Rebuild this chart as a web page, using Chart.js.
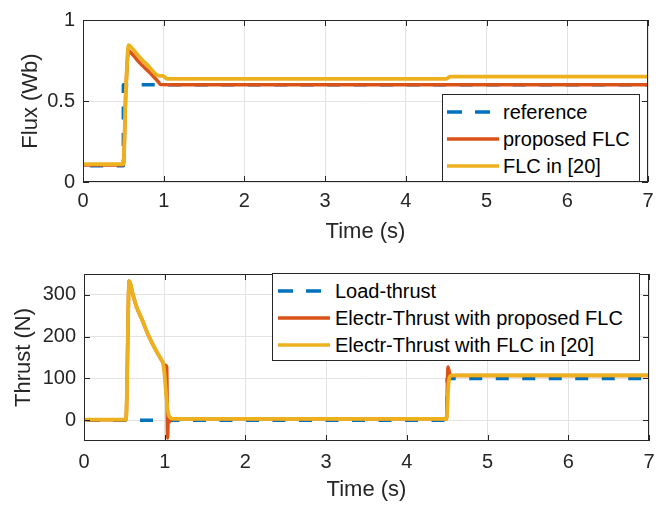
<!DOCTYPE html>
<html>
<head>
<meta charset="utf-8">
<script src="https://cdn.jsdelivr.net/npm/chart.js@4"></script>
<style>
  body { margin: 0; background: #fff; }
  #wrap { position: relative; width: 665px; height: 508px; font-family: "Liberation Sans", Arial, sans-serif; }
  .pane { position: absolute; left: 0; width: 665px; height: 254px; }
  .legend { position: absolute; background: #fff; border: 1px solid #262626; box-sizing: border-box; }
  .row { position: absolute; left: 0; height: 26px; font-size: 20px; color: #000; white-space: nowrap; }
  .row svg { position: absolute; top: 0; }
  .row span { position: absolute; top: 1px; line-height: 24px; }
</style>
</head>
<body>
<div id="wrap">
  <div class="pane" style="top:0"><canvas id="fluxChart" width="665" height="254"></canvas></div>
  <div class="pane" style="top:254px"><canvas id="thrustChart" width="665" height="254"></canvas></div>

  <div class="legend" style="left:442px; top:94px; width:198px; height:88px;">
    <div class="row" style="top:4px;"><svg width="60" height="26"><line x1="4" y1="13" x2="56" y2="13" stroke="#0072BD" stroke-width="3.5" stroke-dasharray="15,13"/></svg><span style="left:60px">reference</span></div>
    <div class="row" style="top:31px;"><svg width="60" height="26"><line x1="4" y1="13" x2="56" y2="13" stroke="#D95319" stroke-width="3.5"/></svg><span style="left:60px">proposed FLC</span></div>
    <div class="row" style="top:58px;"><svg width="60" height="26"><line x1="4" y1="13" x2="56" y2="13" stroke="#EDB120" stroke-width="3.5"/></svg><span style="left:60px">FLC in [20]</span></div>
  </div>

  <div class="legend" style="left:272px; top:273px; width:368px; height:88px;">
    <div class="row" style="top:4px;"><svg width="62" height="26"><line x1="5" y1="13" x2="57" y2="13" stroke="#0072BD" stroke-width="3.5" stroke-dasharray="15,13"/></svg><span style="left:62px">Load-thrust</span></div>
    <div class="row" style="top:31px;"><svg width="62" height="26"><line x1="5" y1="13" x2="57" y2="13" stroke="#D95319" stroke-width="3.5"/></svg><span style="left:62px">Electr-Thrust with proposed FLC</span></div>
    <div class="row" style="top:58px;"><svg width="62" height="26"><line x1="5" y1="13" x2="57" y2="13" stroke="#EDB120" stroke-width="3.5"/></svg><span style="left:62px">Electr-Thrust with FLC in [20]</span></div>
  </div>
</div>

<script>
// tick labels
const timeTicks = [0, 1, 2, 3, 4, 5, 6, 7];
const fluxTicks = [0, 0.5, 1];
const thrustTicks = [0, 100, 200, 300];

// flux (Wb) - top plot
const fluxRefTime = [0, 0.5, 0.5, 7];
const fluxRef = [0.1, 0.1, 0.6, 0.6];
const fluxPropTime = [0, 0.5, 0.53, 0.565, 0.6, 0.64, 0.7, 0.76, 0.81, 0.87, 0.93, 0.96, 1.2, 7];
const fluxProp = [0.105, 0.105, 0.55, 0.81, 0.795, 0.772, 0.737, 0.707, 0.684, 0.652, 0.62, 0.602, 0.601, 0.601];
const fluxOldTime = [0, 0.5, 0.53, 0.565, 0.6, 0.685, 0.75, 0.81, 0.87, 0.91, 0.95, 0.99, 1.04, 4.5, 4.55, 7];
const fluxOld = [0.11, 0.11, 0.55, 0.845, 0.83, 0.78, 0.745, 0.716, 0.682, 0.662, 0.655, 0.655, 0.637, 0.637, 0.65, 0.65];

// thrust (N) - bottom plot
const loadTime = [0, 4.5, 4.5, 7];
const loadThrust = [0, 0, 100, 100];
const thrPropTime = [0, 0.52, 0.56, 0.6, 0.65, 0.714, 0.8, 0.88, 0.963, 1.0, 1.025, 1.035, 1.045, 1.055, 1.07, 1.1, 4.49, 4.51, 4.53, 4.56, 4.6, 7];
const thrProp = [1, 1, 333, 305, 272, 243, 202, 171, 143, 132, 128, -43, 10, -5, 5, 3, 3, 127, 112, 106, 107, 107];
const thrOldTime = [0, 0.52, 0.56, 0.6, 0.65, 0.714, 0.8, 0.88, 0.963, 0.98, 1.0, 1.02, 1.045, 1.07, 1.1, 4.49, 4.52, 4.55, 7];
const thrOld = [1, 1, 333, 305, 272, 243, 202, 171, 143, 136, 105, 55, 15, 6, 3, 3, 95, 107, 107];

const BLUE = "#0072BD", RED = "#D95319", YELLOW = "#EDB120";
const AXIS = "#262626", GRID = "#e3e3e3";
const FONT = "'Liberation Sans', Arial, sans-serif";

function pts(t, v) {
  return t.map((x, i) => ({ x: x, y: v[i] }));
}

// box round the axes with inward tick marks, like matlab
const boxPlugin = {
  id: "box",
  afterDraw(chart) {
    const { ctx, chartArea: a, scales } = chart;
    ctx.save();
    ctx.strokeStyle = AXIS;
    ctx.lineWidth = 1;
    ctx.strokeRect(a.left + 0.5, a.top + 0.5, a.right - a.left - 1, a.bottom - a.top - 1);
    ctx.beginPath();
    scales.x.ticks.forEach(tk => {
      const px = Math.round(scales.x.getPixelForValue(tk.value)) + 0.5;
      ctx.moveTo(px, a.bottom); ctx.lineTo(px, a.bottom - 6);
      ctx.moveTo(px, a.top); ctx.lineTo(px, a.top + 6);
    });
    scales.y.ticks.forEach(tk => {
      const py = Math.round(scales.y.getPixelForValue(tk.value)) + 0.5;
      ctx.moveTo(a.left, py); ctx.lineTo(a.left + 6, py);
      ctx.moveTo(a.right, py); ctx.lineTo(a.right - 6, py);
    });
    ctx.stroke();
    ctx.restore();
  }
};

function makeChart(id, cfg) {
  const ctx = document.getElementById(id).getContext("2d");
  return new Chart(ctx, {
    type: "line",
    data: {
      datasets: [
        { label: cfg.labels[0], data: cfg.ref, borderColor: BLUE, borderWidth: 3.5, borderDash: [13, 13.5], borderDashOffset: cfg.dashOffset, order: 3 },
        { label: cfg.labels[1], data: cfg.prop, borderColor: RED, borderWidth: 3.5, cubicInterpolationMode: "monotone", order: 2 },
        { label: cfg.labels[2], data: cfg.old, borderColor: YELLOW, borderWidth: 3.8, cubicInterpolationMode: "monotone", order: 1 }
      ]
    },
    options: {
      responsive: false,
      animation: false,
      elements: { point: { radius: 0 }, line: { borderCapStyle: "butt", borderJoinStyle: "round" } },
      layout: { padding: { left: 0, right: cfg.padRight, top: cfg.padTop, bottom: 0 } },
      plugins: { legend: { display: false }, tooltip: { enabled: false } },
      scales: {
        x: {
          type: "linear", min: 0, max: 7,
          afterBuildTicks: s => { s.ticks = timeTicks.map(v => ({ value: v })); },
          afterFit: s => { s.height = cfg.xHeight; },
          ticks: { color: AXIS, font: { family: FONT, size: 20 }, padding: cfg.xTickPad, maxRotation: 0, callback: v => String(v) },
          grid: { color: GRID, drawTicks: false },
          border: { display: false },
          title: { display: true, text: "Time (s)", color: AXIS, font: { family: FONT, size: 22 }, padding: { top: 0, bottom: cfg.xTitlePad } }
        },
        y: {
          min: cfg.yMin, max: cfg.yMax,
          afterBuildTicks: s => { s.ticks = cfg.yTicks.map(v => ({ value: v })); },
          afterFit: s => { s.width = cfg.yWidth; },
          ticks: { color: AXIS, font: { family: FONT, size: 20 }, padding: 8, callback: v => String(v) },
          grid: { color: GRID, drawTicks: false },
          border: { display: false },
          title: { display: true, text: cfg.yTitle, color: AXIS, font: { family: FONT, size: 22 }, padding: { top: cfg.yTitlePad, bottom: 0 } }
        }
      }
    },
    plugins: [boxPlugin]
  });
}

makeChart("fluxChart", {
  labels: ["reference", "proposed FLC", "FLC in [20]"],
  ref: pts(fluxRefTime, fluxRef),
  prop: pts(fluxPropTime, fluxProp),
  old: pts(fluxOldTime, fluxOld),
  yMin: 0, yMax: 1, yTicks: fluxTicks, yTitle: "Flux (Wb)",
  padRight: 17, padTop: 14, yWidth: 83, xHeight: 72,
  xTickPad: 7, xTitlePad: 9, yTitlePad: 18, dashOffset: 19.3
});

makeChart("thrustChart", {
  labels: ["Load-thrust", "Electr-Thrust with proposed FLC", "Electr-Thrust with FLC in [20]"],
  ref: pts(loadTime, loadThrust),
  prop: pts(thrPropTime, thrProp),
  old: pts(thrOldTime, thrOld),
  yMin: -50, yMax: 350, yTicks: thrustTicks, yTitle: "Thrust (N)",
  padRight: 16, padTop: 19, yWidth: 84, xHeight: 67,
  xTickPad: 9, xTitlePad: 5, yTitlePad: 11, dashOffset: 23.5
});
</script>
</body>
</html>
